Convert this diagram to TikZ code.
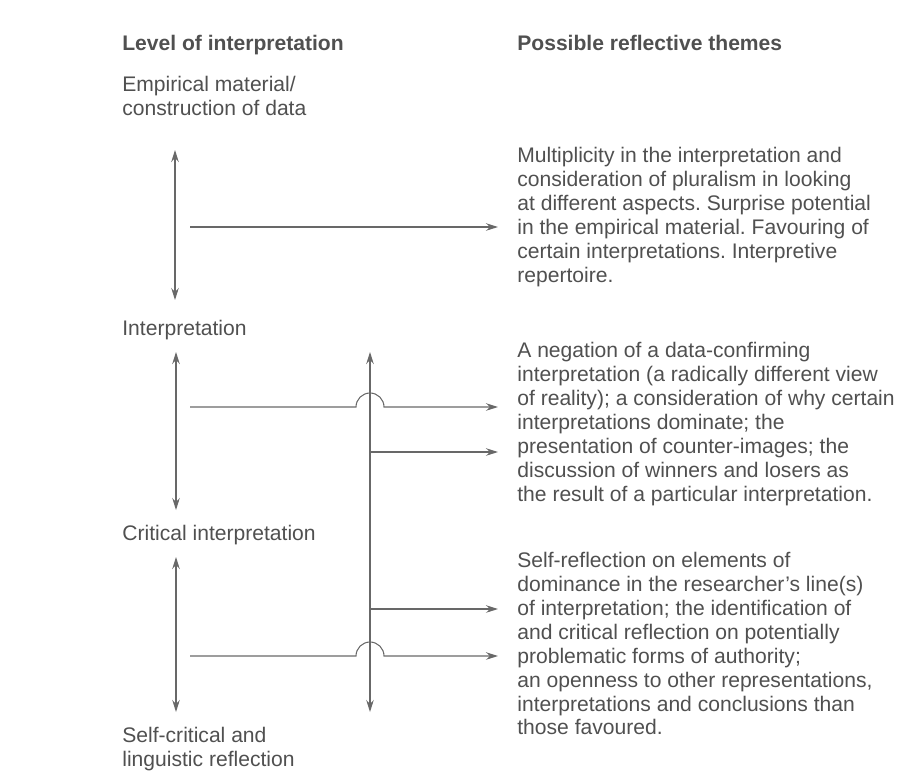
\documentclass[tikz,border=0pt]{standalone}
\usepackage{fontspec}
\setmainfont{Liberation Sans}
\usepackage{tikz}
\usetikzlibrary{arrows.meta,calc}

\definecolor{inkgray}{HTML}{505050}
\definecolor{linegray}{HTML}{686868}

\begin{document}
\frenchspacing
\begin{tikzpicture}[
  x=0.02cm, y=-0.02cm,
  head/.style={font=\bfseries\fontsize{12}{13.6}\selectfont, text=inkgray, inner sep=0, anchor=base west},
  level/.style={font=\fontsize{12}{13.6}\selectfont, text=inkgray, inner sep=0, align=left},
  theme/.style={font=\fontsize{12}{13.6}\selectfont, text=inkgray, inner sep=0, align=left, anchor=north west},
  dbl/.style={{Stealth[length=2.4mm,width=1.5mm]}-{Stealth[length=2.4mm,width=1.5mm]}, draw=linegray, line width=0.6pt},
  arrow/.style={-{Stealth[length=2.4mm,width=1.5mm]}, draw=linegray, line width=0.6pt}
]
\useasboundingbox (0,0) rectangle (906,782);

% column heads
\node[head] (lvhead) at (122,50.5) {Level of interpretation};
\node[head] (thhead) at (517,50.5) {Possible reflective themes};

% levels
\node[level, anchor=north west] (lvemp) at (122,76) {Empirical material/\\construction of data};
\node[level, anchor=base west] (lvint) at (122,335.5) {Interpretation};
\node[level, anchor=base west] (lvcrit) at (122,540.5) {Critical interpretation};
\node[level, anchor=north west] (lvself) at (122,727) {Self-critical and\\linguistic reflection};

% themes
\node[theme] (thone) at (517,147) {Multiplicity in the interpretation and\\consideration of pluralism in looking\\at different aspects. Surprise potential\\in the empirical material. Favouring of\\certain interpretations. Interpretive\\repertoire.};
\node[theme] (thtwo) at (517,342) {A negation of a data-confirming\\interpretation (a radically different view\\of reality); a consideration of why certain\\interpretations dominate; the\\presentation of counter-images; the\\discussion of winners and losers as\\the result of a particular interpretation.};
\node[theme] (ththree) at (517,552) {Self-reflection on elements of\\dominance in the researcher's line(s)\\of interpretation; the identification of\\and critical reflection on potentially\\problematic forms of authority;\\an openness to other representations,\\interpretations and conclusions than\\those favoured.};

% arrow ends
\coordinate (upa) at (175,150);
\coordinate (dna) at (175,300);
\coordinate (upb) at (176,352);
\coordinate (dnb) at (176,510);
\coordinate (upc) at (176,557);
\coordinate (dnc) at (176,712);
\coordinate (upr) at (370,352);
\coordinate (dnr) at (370,712);
\coordinate (fromone) at (190,227);
\coordinate (toone) at (498,227);
\coordinate (fromtwo) at (190,407);
\coordinate (jumptwo) at (370,407);
\coordinate (totwo) at (498,407);
\coordinate (fromthree) at (370,452);
\coordinate (tothree) at (498,452);
\coordinate (fromfour) at (370,609);
\coordinate (tofour) at (498,609);
\coordinate (fromfive) at (190,656);
\coordinate (jumpfive) at (370,656);
\coordinate (tofive) at (498,656);

% vertical arrows
\draw[dbl] (upa) -- (dna);
\draw[dbl] (upb) -- (dnb);
\draw[dbl] (upc) -- (dnc);
\draw[dbl] (upr) -- (dnr);

% arrows to the themes
\draw[arrow] (fromone) -- (toone);
\draw[arrow] (fromtwo) -- ($(jumptwo)+(-14,0)$) arc[start angle=180, end angle=0, radius=0.28cm] -- (totwo);
\draw[arrow] (fromthree) -- (tothree);
\draw[arrow] (fromfour) -- (tofour);
\draw[arrow] (fromfive) -- ($(jumpfive)+(-14,0)$) arc[start angle=180, end angle=0, radius=0.28cm] -- (tofive);
\end{tikzpicture}
\end{document}
